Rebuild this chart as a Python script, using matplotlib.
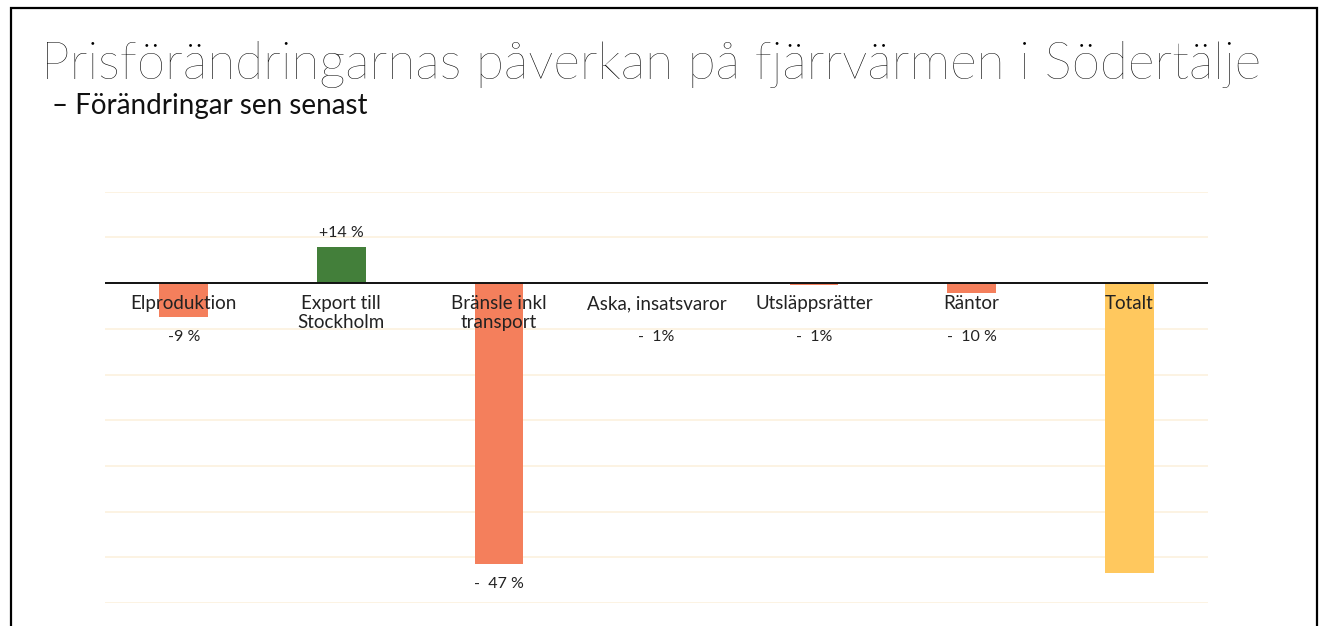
import matplotlib
matplotlib.use("Agg")
import matplotlib.pyplot as plt
from matplotlib.patches import Rectangle

categories = ["Elproduktion", "Export till\nStockholm", "Bränsle inkl\ntransport",
              "Aska, insatsvaror", "Utsläppsrätter", "Räntor", "Totalt"]
values = [-7.4, 8.0, -61.5, 0.0, -0.4, -2.2, -63.5]
value_labels = ["-9 %", "+14 %", "-  47 %", "-  1%", "-  1%", "-  10 %", ""]
bar_colors = ["#F47F5C", "#437F3A", "#F47F5C", "#F47F5C", "#F47F5C", "#F47F5C", "#FFC85E"]
yticks = [20, 10, 0, -10, -20, -30, -40, -50, -60, -70]

title = "Prisförändringarnas påverkan på fjärrvärmen i Södertälje"
subtitle = "– Förändringar sen senast"

plt.rcParams['font.family'] = ['Lato', 'DejaVu Sans']

W, H = 1322, 626
fig = plt.figure(figsize=(W / 100, H / 100), dpi=100)
fig.patch.set_facecolor("white")

# frame
fig.add_artist(Rectangle((11 / W, -0.05), (1317 - 11) / W, (H - 8) / H + 0.05,
                         transform=fig.transFigure, fill=False,
                         edgecolor="black", linewidth=1.6))

fig.text(41 / W, 1 - 64 / H, title, fontsize=37, fontweight="light",
         color="#000000", va="center", ha="left")
fig.text(52 / W, 1 - 106 / H, subtitle, fontsize=20, color="#111111",
         va="center", ha="left")

left, right = 105 / W, 1208 / W
top, bottom = 1 - 191.7 / H, 1 - 603 / H
ax = fig.add_axes([left, bottom, right - left, top - bottom])
ax.set_xlim(-0.5, len(categories) - 0.5)
ax.set_ylim(-70, 20)
for s in ax.spines.values():
    s.set_visible(False)
ax.set_xticks([])
ax.set_yticks([])

for yt in yticks:
    if yt != 0:
        ax.axhline(yt, color="#FCF1DE", linewidth=1.2, zorder=0)

x = list(range(len(categories)))
ax.bar(x, values, width=0.31, color=bar_colors, zorder=2)
ax.axhline(0, color="#111111", linewidth=1.4, zorder=3)

for i, cat in enumerate(categories):
    ax.annotate(cat, xy=(i, 0), xytext=(0, -12), textcoords="offset pixels",
                ha="center", va="top", fontsize=13.5, color="#222222",
                linespacing=1.15, zorder=4)

for i, (v, lab) in enumerate(zip(values, value_labels)):
    if not lab:
        continue
    if v > 0:
        ax.annotate(lab, xy=(i, v), xytext=(0, 14), textcoords="offset pixels",
                    ha="center", va="center", fontsize=11.5, color="#222222", zorder=4)
    else:
        ax.annotate(lab, xy=(i, min(v, -7.4)), xytext=(0, -20), textcoords="offset pixels",
                    ha="center", va="center", fontsize=11.5, color="#222222", zorder=4)

fig.savefig("out.png", dpi=100)
